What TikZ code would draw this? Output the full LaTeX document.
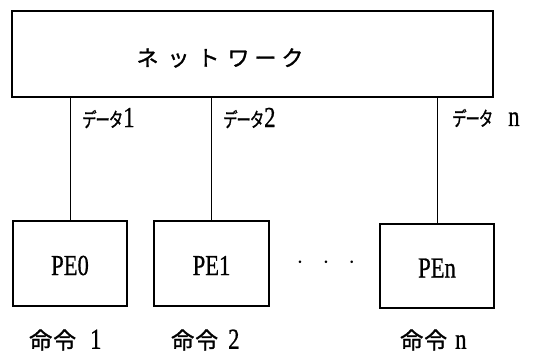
\documentclass[tikz,border=0pt]{standalone}
\usepackage{fontspec}
\setmainfont{Liberation Serif}[FakeBold=0.8]
\newfontfamily\jp{Noto Sans CJK JP}[FakeBold=1.2]
\begin{document}
\begin{tikzpicture}[x=1pt,y=-1pt,
  box/.style={draw,line width=1.4pt,inner sep=0pt},
  lat/.style={font=\fontsize{38}{40}\selectfont},
  link/.style={line width=1pt}]
\newcommand{\lt}[1]{\scalebox{0.78}[1]{\fontsize{29}{31}\selectfont #1}}
\newcommand{\dt}{\scalebox{0.72}[1]{\jp\fontsize{20}{22}\selectfont デ\kern-1.5pt ー\kern-1.5pt タ}}
\newcommand{\mr}{{\jp\fontsize{23}{25}\selectfont 命\kern1pt 令}}
\useasboundingbox (0,0) rectangle (545,360);
\node[box,minimum width=481pt,minimum height=86pt] (net) at (252.5,54) {};
\node[font=\jp\fontsize{22}{24}\selectfont] (nettxt) at (220,58) {ネ\hspace{9pt}ッ\hspace{8pt}ト\hspace{8pt}ワ\hspace{5pt}ー\hspace{5pt}ク};
\node[box,minimum width=114pt,minimum height=85pt] (pe0) at (70,263.5) {};
\node[box,minimum width=115pt,minimum height=85pt] (pe1) at (211.5,263.5) {};
\node[box,minimum width=114pt,minimum height=84pt] (pen) at (437,266) {};
\node (t0) at ([yshift=-2pt]pe0.center) {\lt{PE0}};
\node (t1) at ([yshift=-2pt]pe1.center) {\lt{PE1}};
\node (tn) at ([yshift=-2pt]pen.center) {\lt{PEn}};
\draw[link] (net.south -| pe0.north) -- (pe0.north);
\draw[link] (net.south -| pe1.north) -- (pe1.north);
\draw[link] (net.south -| pen.north) -- (pen.north);
\node[anchor=west,inner sep=0pt] (d1) at (82,118) {\dt\lt{1}};
\node[anchor=west,inner sep=0pt] (d2) at (223,118) {\dt\lt{2}};
\node[anchor=west,inner sep=0pt] (dn) at (452,118) {\dt\hspace{15pt}\lt{n}};
\node[lat] (dots) at (326,263) {$\cdot$\hspace{19pt}$\cdot$\hspace{19pt}$\cdot$};
\node[anchor=west,inner sep=0pt] (c1) at (29,340) {\mr\hspace{14pt}\lt{1}};
\node[anchor=west,inner sep=0pt] (c2) at (171,340) {\mr\hspace{10pt}\lt{2}};
\node[anchor=west,inner sep=0pt] (cn) at (400,340) {\mr\hspace{8pt}\lt{n}};
\end{tikzpicture}
\end{document}
